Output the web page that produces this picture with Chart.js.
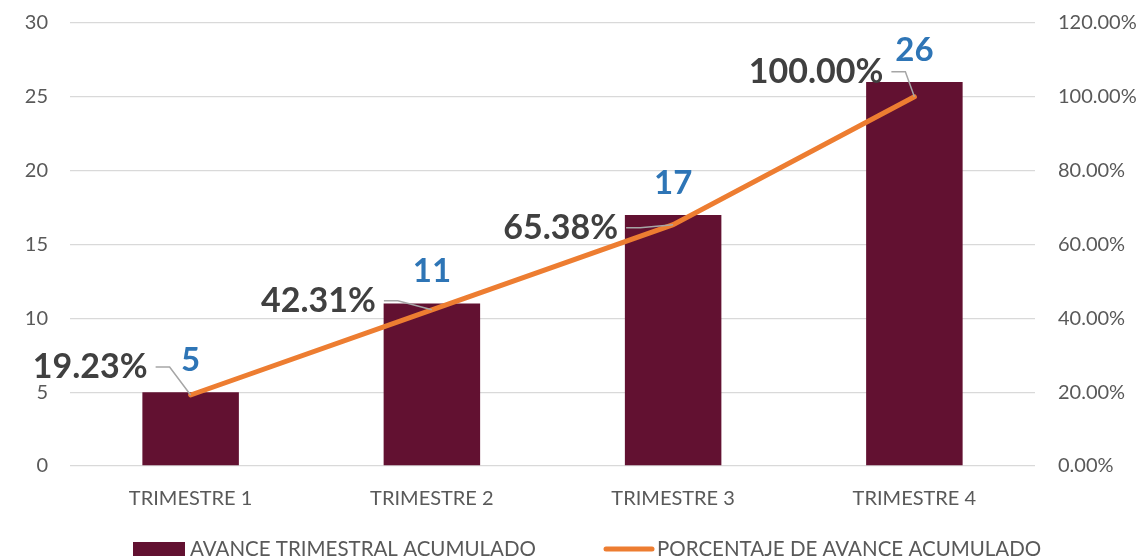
<!DOCTYPE html>
<html>
<head>
<meta charset="utf-8">
<script src="https://cdn.jsdelivr.net/npm/chart.js@4"></script>
<style>
  html, body { margin: 0; padding: 0; background: #fff; }
  #wrap { width: 1145px; height: 560px; position: relative; }
</style>
</head>
<body>
<div id="wrap"><canvas id="avanceChart"></canvas></div>
<script>
// Datos
const trimestres = ['TRIMESTRE 1', 'TRIMESTRE 2', 'TRIMESTRE 3', 'TRIMESTRE 4'];
const avanceAcumulado = [5, 11, 17, 26];
const porcentajeAvance = [19.23, 42.31, 65.38, 100.00];
const ejeIzqMax = 30;
const ejeIzqPaso = 5;
const ejeDerMax = 120;
const ejeDerPaso = 20;
const nombreBarras = 'AVANCE TRIMESTRAL ACUMULADO';
const nombreLinea = 'PORCENTAJE DE AVANCE ACUMULADO';

const FONT = 'Lato, "Open Sans", sans-serif';
const colorBarra = '#621131';
const colorLinea = '#ED7D31';
const colorAzul = '#2E75B6';
const colorTexto = '#595959';
const AREA_TOP = 23;

// desplazamiento de las etiquetas de porcentaje respecto al punto (dx = borde derecho, dy = centro)
const etiquetaDx = [-43, -56, -55, -31];
const etiquetaDy = [-28, -9, 3, -25];

// fija el borde superior del area de dibujo
const ajusteArea = {
  id: 'ajusteArea',
  afterLayout(chart) {
    const area = chart.chartArea;
    area.top = AREA_TOP;
    area.height = area.bottom - AREA_TOP;
    ['yIzq', 'yDer'].forEach(id => {
      const s = chart.scales[id];
      s.top = AREA_TOP;
      s.height = s.bottom - AREA_TOP;
      s.configure();
    });
  }
};

const etiquetasPlugin = {
  id: 'etiquetas',
  afterDatasetsDraw(chart) {
    const ctx = chart.ctx;
    const barMeta = chart.getDatasetMeta(1);
    const lineMeta = chart.getDatasetMeta(0);
    ctx.save();
    // valores sobre las barras
    ctx.font = 'bold 33px ' + FONT;
    ctx.fillStyle = colorAzul;
    ctx.textAlign = 'center';
    ctx.textBaseline = 'middle';
    barMeta.data.forEach((bar, i) => {
      ctx.fillText(String(avanceAcumulado[i]), bar.x, bar.y - 32);
    });
    // porcentajes con linea guia
    ctx.font = 'bold 34px ' + FONT;
    lineMeta.data.forEach((pt, i) => {
      const txt = porcentajeAvance[i].toFixed(2) + '%';
      const rx = pt.x + etiquetaDx[i];
      const cy = pt.y + etiquetaDy[i];
      ctx.fillStyle = '#404040';
      ctx.textAlign = 'right';
      ctx.fillText(txt, rx, cy);
      ctx.strokeStyle = '#A6A6A6';
      ctx.lineWidth = 1.5;
      ctx.beginPath();
      ctx.moveTo(rx + 8, cy);
      ctx.lineTo(rx + 22, cy);
      ctx.lineTo(pt.x, pt.y);
      ctx.stroke();
    });
    ctx.restore();
  },
  afterDraw(chart) {
    const ctx = chart.ctx;
    ctx.save();
    const y = 549;
    ctx.fillStyle = colorBarra;
    ctx.fillRect(133, y - 7, 52, 14);
    ctx.strokeStyle = colorLinea;
    ctx.lineWidth = 5;
    ctx.lineCap = 'round';
    ctx.beginPath();
    ctx.moveTo(606, y);
    ctx.lineTo(652, y);
    ctx.stroke();
    ctx.font = '20.5px ' + FONT;
    ctx.fillStyle = colorTexto;
    ctx.textAlign = 'left';
    ctx.textBaseline = 'middle';
    ctx.fillText(nombreBarras, 190, y);
    ctx.fillText(nombreLinea, 657, y);
    ctx.restore();
  }
};

const ctx = document.getElementById('avanceChart').getContext('2d');
new Chart(ctx, {
  data: {
    labels: trimestres,
    datasets: [
      {
        type: 'line',
        label: nombreLinea,
        data: porcentajeAvance,
        yAxisID: 'yDer',
        borderColor: colorLinea,
        backgroundColor: colorLinea,
        borderWidth: 5,
        borderCapStyle: 'round',
        pointRadius: 0,
        tension: 0,
        order: 0
      },
      {
        type: 'bar',
        label: nombreBarras,
        data: avanceAcumulado,
        yAxisID: 'yIzq',
        backgroundColor: colorBarra,
        barPercentage: 0.4,
        categoryPercentage: 1,
        order: 1
      }
    ]
  },
  options: {
    responsive: true,
    maintainAspectRatio: false,
    animation: false,
    layout: { padding: { top: 13, bottom: 0, left: 0, right: 0 } },
    plugins: {
      legend: { display: false },
      tooltip: { enabled: false }
    },
    scales: {
      x: {
        grid: { display: false, drawTicks: false },
        border: { display: false },
        ticks: { color: colorTexto, font: { family: FONT, size: 20 }, padding: 21, maxRotation: 0 },
        afterFit(scale) { scale.height = 94; }
      },
      yIzq: {
        position: 'left',
        min: 0,
        max: ejeIzqMax,
        ticks: { stepSize: ejeIzqPaso, color: colorTexto, font: { family: FONT, size: 20 }, padding: 22 },
        grid: { color: '#D9D9D9', lineWidth: 1.3, drawTicks: false },
        border: { display: false },
        afterFit(scale) { scale.width = 70; }
      },
      yDer: {
        position: 'right',
        min: 0,
        max: ejeDerMax,
        ticks: {
          stepSize: ejeDerPaso,
          color: colorTexto,
          font: { family: FONT, size: 20 },
          padding: 23,
          callback: v => v.toFixed(2) + '%'
        },
        grid: { display: false, drawTicks: false },
        border: { display: false },
        afterFit(scale) { scale.width = 110; }
      }
    }
  },
  plugins: [ajusteArea, etiquetasPlugin]
});
</script>
</body>
</html>
